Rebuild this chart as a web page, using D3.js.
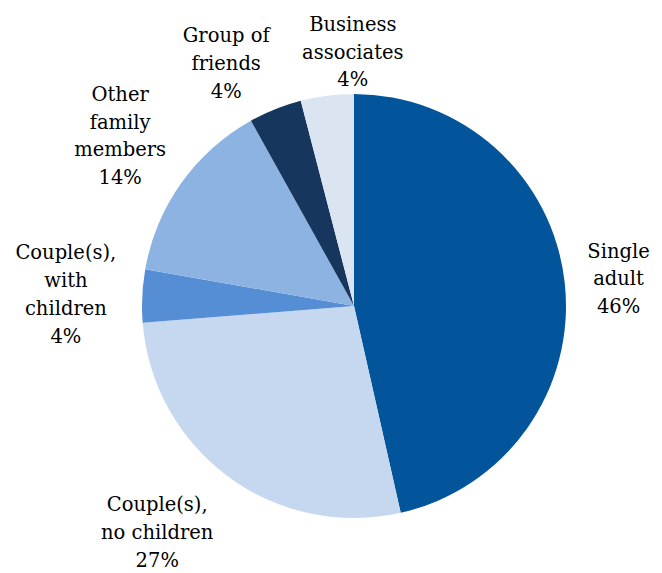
<!DOCTYPE html>
<html>
<head>
<meta charset="utf-8">
<script src="https://cdn.jsdelivr.net/npm/d3@7"></script>
<style>
  html, body { margin: 0; padding: 0; background: #fff; }
  svg { display: block; }
  text { font-family: "DejaVu Serif", "Liberation Serif", serif; font-size: 19.5px; fill: #000; }
</style>
</head>
<body>
<svg id="chart" width="662" height="573"></svg>
<script>
// Travel party composition (share of respondents, %)
const categories = [
  ["Single", "adult"],
  ["Couple(s),", "no children"],
  ["Couple(s),", "with", "children"],
  ["Other", "family", "members"],
  ["Group of", "friends"],
  ["Business", "associates"]
];
const shares = [46, 27, 4, 14, 4, 4];
const colors = ["#02559A", "#C6D8F0", "#558ED5", "#8DB3E2", "#17365D", "#DBE5F1"];

// Label placement tweaks (dx, dy) applied after the radial anchor
const labelNudge = [[0, 3], [-24, 3], [-3, 2], [-5, -2], [-24, 14], [35, 20]];

const svg = d3.select("#chart");
const cx = 354, cy = 306, radius = 212;
const lineHeight = 27.8;
const labelGap = 23;

const pie = d3.pie().sort(null).value(d => d.value).startAngle(0).endAngle(2 * Math.PI);
const arc = d3.arc().innerRadius(0).outerRadius(radius);

const data = shares.map((v, i) => ({ value: v, lines: categories[i], color: colors[i], i }));
const arcs = pie(data);

const g = svg.append("g").attr("transform", `translate(${cx},${cy})`);

g.selectAll("path.slice")
  .data(arcs)
  .join("path")
  .attr("class", "slice")
  .attr("d", arc)
  .attr("fill", d => d.data.color);

// Labels: category lines plus the percentage, placed outside each slice
const labels = g.selectAll("text.label")
  .data(arcs)
  .join("text")
  .attr("class", "label")
  .attr("text-anchor", "middle");

labels.each(function (d) {
  const t = d3.select(this);
  const lines = d.data.lines.concat([d.data.value + "%"]);
  lines.forEach((ln, k) => {
    t.append("tspan").attr("x", 0).attr("y", k * lineHeight).text(ln);
  });
  const bb = this.getBBox();
  const w = bb.width;
  const h = lines.length * lineHeight;
  const a = (d.startAngle + d.endAngle) / 2;
  const r = radius + labelGap;
  const px = r * Math.sin(a) + Math.sin(a) * w / 2;
  const py = -r * Math.cos(a) - Math.cos(a) * h / 2;
  const [nx, ny] = labelNudge[d.data.i];
  const centerX = px + nx;
  const centerY = py + ny;
  const firstBaseline = centerY - (lines.length - 1) / 2 * lineHeight + 7;
  t.selectAll("tspan")
    .attr("x", centerX)
    .attr("y", (_, k) => firstBaseline + k * lineHeight);
});
</script>
</body>
</html>
